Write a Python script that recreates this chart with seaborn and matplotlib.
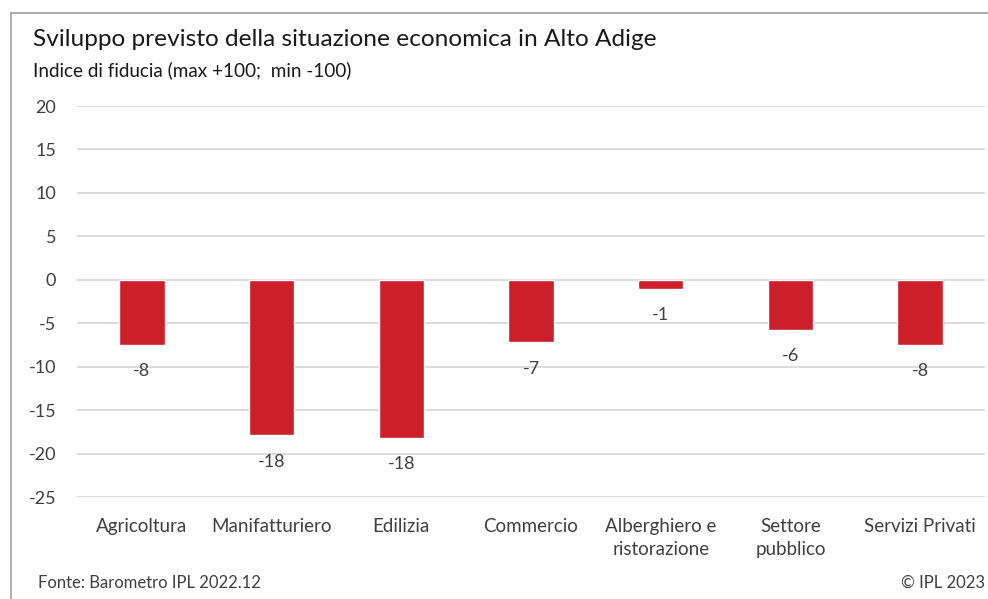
import matplotlib
matplotlib.use("Agg")
import matplotlib.pyplot as plt
import pandas as pd
import seaborn as sns
from matplotlib.lines import Line2D

categories = ["Agricoltura", "Manifatturiero", "Edilizia", "Commercio",
              "Alberghiero e\nristorazione", "Settore\npubblico", "Servizi Privati"]
values = [-7.5, -17.9, -18.2, -7.2, -1.1, -5.8, -7.5]
labels = ["-8", "-18", "-18", "-7", "-1", "-6", "-8"]
yticks = [20, 15, 10, 5, 0, -5, -10, -15, -20, -25]

sns.set_theme(style="white")
plt.rcParams["font.family"] = ["Lato", "DejaVu Sans"]

df = pd.DataFrame({"settore": categories, "indice": values})

fig = plt.figure(figsize=(9.88, 5.99), dpi=100)
ax = fig.add_axes([0.078, 0.170, 0.919, 0.653])

sns.barplot(data=df, x="settore", y="indice", color="#CC1F2A", width=0.35,
            saturation=1, ax=ax, zorder=3)

for i, (v, t) in enumerate(zip(values, labels)):
    ax.annotate(t, (i, v), textcoords="offset points", xytext=(0, -13),
                ha="center", va="top", fontsize=13, color="#404040")

ax.set_ylim(-25, 20)
ax.set_yticks(yticks)
ax.set_yticklabels([str(t) for t in yticks])
ax.set_xlim(-0.5, len(categories) - 0.5)
ax.grid(True, axis="y", color="#d9d9d9", linewidth=1.3, zorder=0)
for s in ax.spines.values():
    s.set_visible(False)
ax.tick_params(axis="y", length=0, pad=15, labelsize=13, labelcolor="#404040")
ax.tick_params(axis="x", length=0, pad=15, labelsize=13.5, labelcolor="#404040")
for lab in ax.get_xticklabels():
    lab.set_linespacing(1.45)
ax.set_xlabel("")
ax.set_ylabel("")

# frame lines (top and left)
fig.add_artist(Line2D([11 / 988, 1], [1 - 13 / 599, 1 - 13 / 599],
                      transform=fig.transFigure, color="#a0a0a0", linewidth=1.2))
fig.add_artist(Line2D([11 / 988, 11 / 988], [0, 1 - 13 / 599],
                      transform=fig.transFigure, color="#a0a0a0", linewidth=1.2))

fig.text(33 / 988, 1 - 40 / 599, "Sviluppo previsto della situazione economica in Alto Adige",
         fontsize=17.6, color="#1a1a1a", va="center", ha="left")
fig.text(33 / 988, 1 - 70 / 599, "Indice di fiducia (max +100;  min -100)",
         fontsize=13.6, color="#1a1a1a", va="center", ha="left")
fig.text(38 / 988, 1 - 583 / 599, "Fonte: Barometro IPL 2022.12",
         fontsize=12, color="#404040", va="center", ha="left")
fig.text(985 / 988, 1 - 583 / 599, "© IPL 2023",
         fontsize=12, color="#404040", va="center", ha="right")

fig.savefig("out.png", dpi=100)
